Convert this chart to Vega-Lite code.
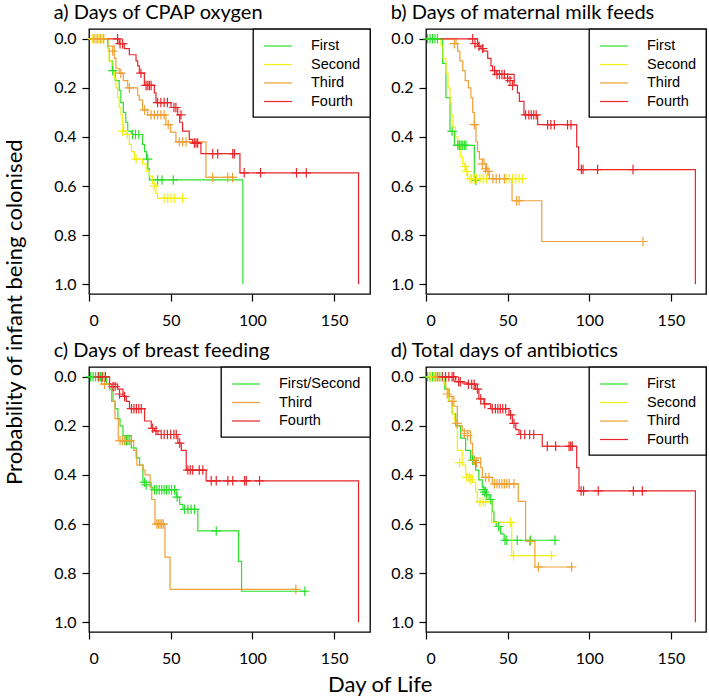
{
"$schema": "https://vega.github.io/schema/vega-lite/v6.json",
"padding": {"left": 4, "top": 2, "right": 0, "bottom": 0},
"background": "white",
"title": {"text": "Probability of infant being  colonised", "orient": "left", "anchor": "middle", "frame": "bounds", "fontSize": 22, "offset": 26, "dx": 37, "font": "Lato", "fontWeight": "normal", "color": "black"},
"resolve": {"scale": {"color": "independent"}, "legend": {"color": "independent"}},
"datasets": {
"km": [
{"p":"a","g":"First","t":0,"y":0},{"p":"a","g":"First","t":11.6,"y":0.04},{"p":"a","g":"First","t":12.5,"y":0.09},{"p":"a","g":"First","t":14.5,"y":0.13},{"p":"a","g":"First","t":16,"y":0.17},{"p":"a","g":"First","t":18.5,"y":0.21},{"p":"a","g":"First","t":19.5,"y":0.26},{"p":"a","g":"First","t":21,"y":0.3},{"p":"a","g":"First","t":22.5,"y":0.34},{"p":"a","g":"First","t":23.7,"y":0.376},{"p":"a","g":"First","t":25.9,"y":0.39},{"p":"a","g":"First","t":32.8,"y":0.43},{"p":"a","g":"First","t":34,"y":0.46},{"p":"a","g":"First","t":35.2,"y":0.49},{"p":"a","g":"First","t":36,"y":0.53},{"p":"a","g":"First","t":36.9,"y":0.575},{"p":"a","g":"First","t":94.2,"y":1.0},
{"p":"a","g":"Second","t":0,"y":0},{"p":"a","g":"Second","t":11.4,"y":0.04},{"p":"a","g":"Second","t":12.3,"y":0.09},{"p":"a","g":"Second","t":14,"y":0.13},{"p":"a","g":"Second","t":15.5,"y":0.16},{"p":"a","g":"Second","t":16.5,"y":0.2},{"p":"a","g":"Second","t":17.5,"y":0.24},{"p":"a","g":"Second","t":18.5,"y":0.28},{"p":"a","g":"Second","t":19.6,"y":0.31},{"p":"a","g":"Second","t":20.4,"y":0.35},{"p":"a","g":"Second","t":21.2,"y":0.376},{"p":"a","g":"Second","t":22.6,"y":0.39},{"p":"a","g":"Second","t":24.7,"y":0.43},{"p":"a","g":"Second","t":26,"y":0.46},{"p":"a","g":"Second","t":27.8,"y":0.49},{"p":"a","g":"Second","t":32.8,"y":0.51},{"p":"a","g":"Second","t":35,"y":0.54},{"p":"a","g":"Second","t":37,"y":0.56},{"p":"a","g":"Second","t":38.9,"y":0.59},{"p":"a","g":"Second","t":41,"y":0.63},{"p":"a","g":"Second","t":42,"y":0.65},{"p":"a","g":"Second","t":57.5,"y":0.65},
{"p":"a","g":"Third","t":0,"y":0},{"p":"a","g":"Third","t":11.4,"y":0.03},{"p":"a","g":"Third","t":15.5,"y":0.08},{"p":"a","g":"Third","t":16.5,"y":0.12},{"p":"a","g":"Third","t":18.5,"y":0.14},{"p":"a","g":"Third","t":21,"y":0.17},{"p":"a","g":"Third","t":23.7,"y":0.2},{"p":"a","g":"Third","t":29.8,"y":0.23},{"p":"a","g":"Third","t":30.8,"y":0.25},{"p":"a","g":"Third","t":32.8,"y":0.29},{"p":"a","g":"Third","t":35.9,"y":0.31},{"p":"a","g":"Third","t":47.1,"y":0.35},{"p":"a","g":"Third","t":50,"y":0.38},{"p":"a","g":"Third","t":53.2,"y":0.42},{"p":"a","g":"Third","t":71.6,"y":0.565},{"p":"a","g":"Third","t":89,"y":0.565},
{"p":"a","g":"Fourth","t":0,"y":0},{"p":"a","g":"Fourth","t":18.5,"y":0.02},{"p":"a","g":"Fourth","t":21.6,"y":0.04},{"p":"a","g":"Fourth","t":24.7,"y":0.065},{"p":"a","g":"Fourth","t":28.8,"y":0.09},{"p":"a","g":"Fourth","t":29.8,"y":0.11},{"p":"a","g":"Fourth","t":30.8,"y":0.14},{"p":"a","g":"Fourth","t":33.9,"y":0.19},{"p":"a","g":"Fourth","t":40,"y":0.22},{"p":"a","g":"Fourth","t":41,"y":0.26},{"p":"a","g":"Fourth","t":50.2,"y":0.28},{"p":"a","g":"Fourth","t":54.3,"y":0.31},{"p":"a","g":"Fourth","t":55.5,"y":0.34},{"p":"a","g":"Fourth","t":57.3,"y":0.376},{"p":"a","g":"Fourth","t":61.4,"y":0.41},{"p":"a","g":"Fourth","t":63.4,"y":0.425},{"p":"a","g":"Fourth","t":68.5,"y":0.468},{"p":"a","g":"Fourth","t":92.4,"y":0.546},{"p":"a","g":"Fourth","t":165,"y":1.0},
{"p":"b","g":"First","t":0,"y":0},{"p":"b","g":"First","t":10.2,"y":0.1},{"p":"b","g":"First","t":12.2,"y":0.24},{"p":"b","g":"First","t":14.7,"y":0.377},{"p":"b","g":"First","t":17.4,"y":0.434},{"p":"b","g":"First","t":29.6,"y":0.577},{"p":"b","g":"First","t":31.5,"y":0.577},
{"p":"b","g":"Second","t":0,"y":0},{"p":"b","g":"Second","t":9.2,"y":0.03},{"p":"b","g":"Second","t":10.5,"y":0.08},{"p":"b","g":"Second","t":12.2,"y":0.14},{"p":"b","g":"Second","t":13.5,"y":0.2},{"p":"b","g":"Second","t":14.7,"y":0.26},{"p":"b","g":"Second","t":15.5,"y":0.31},{"p":"b","g":"Second","t":16.5,"y":0.36},{"p":"b","g":"Second","t":18,"y":0.4},{"p":"b","g":"Second","t":19.5,"y":0.44},{"p":"b","g":"Second","t":21,"y":0.48},{"p":"b","g":"Second","t":22.5,"y":0.51},{"p":"b","g":"Second","t":24,"y":0.54},{"p":"b","g":"Second","t":25.5,"y":0.57},{"p":"b","g":"Second","t":60,"y":0.57},
{"p":"b","g":"Third","t":0,"y":0},{"p":"b","g":"Third","t":18.4,"y":0.02},{"p":"b","g":"Third","t":19.4,"y":0.05},{"p":"b","g":"Third","t":20.8,"y":0.09},{"p":"b","g":"Third","t":22.5,"y":0.13},{"p":"b","g":"Third","t":24,"y":0.17},{"p":"b","g":"Third","t":26,"y":0.2},{"p":"b","g":"Third","t":27.5,"y":0.24},{"p":"b","g":"Third","t":28.6,"y":0.3},{"p":"b","g":"Third","t":29.6,"y":0.35},{"p":"b","g":"Third","t":30.6,"y":0.42},{"p":"b","g":"Third","t":31.6,"y":0.46},{"p":"b","g":"Third","t":32.7,"y":0.49},{"p":"b","g":"Third","t":35.5,"y":0.51},{"p":"b","g":"Third","t":37,"y":0.54},{"p":"b","g":"Third","t":38.8,"y":0.57},{"p":"b","g":"Third","t":52.7,"y":0.66},{"p":"b","g":"Third","t":70.9,"y":0.826},{"p":"b","g":"Third","t":133,"y":0.826},
{"p":"b","g":"Fourth","t":0,"y":0},{"p":"b","g":"Fourth","t":31.6,"y":0.03},{"p":"b","g":"Fourth","t":33.6,"y":0.04},{"p":"b","g":"Fourth","t":35,"y":0.05},{"p":"b","g":"Fourth","t":37.8,"y":0.08},{"p":"b","g":"Fourth","t":39.8,"y":0.11},{"p":"b","g":"Fourth","t":40.8,"y":0.13},{"p":"b","g":"Fourth","t":43,"y":0.145},{"p":"b","g":"Fourth","t":54,"y":0.19},{"p":"b","g":"Fourth","t":56,"y":0.22},{"p":"b","g":"Fourth","t":57.2,"y":0.255},{"p":"b","g":"Fourth","t":60,"y":0.31},{"p":"b","g":"Fourth","t":68.4,"y":0.35},{"p":"b","g":"Fourth","t":92.3,"y":0.44},{"p":"b","g":"Fourth","t":93.5,"y":0.533},{"p":"b","g":"Fourth","t":165,"y":1.0},
{"p":"c","g":"First/Second","t":0,"y":0},{"p":"c","g":"First/Second","t":10.6,"y":0.03},{"p":"c","g":"First/Second","t":12.6,"y":0.05},{"p":"c","g":"First/Second","t":14.7,"y":0.1},{"p":"c","g":"First/Second","t":16,"y":0.13},{"p":"c","g":"First/Second","t":17.7,"y":0.17},{"p":"c","g":"First/Second","t":19,"y":0.2},{"p":"c","g":"First/Second","t":20.8,"y":0.24},{"p":"c","g":"First/Second","t":25.9,"y":0.29},{"p":"c","g":"First/Second","t":28.9,"y":0.33},{"p":"c","g":"First/Second","t":31,"y":0.36},{"p":"c","g":"First/Second","t":33,"y":0.43},{"p":"c","g":"First/Second","t":38,"y":0.45},{"p":"c","g":"First/Second","t":39.1,"y":0.46},{"p":"c","g":"First/Second","t":53.4,"y":0.49},{"p":"c","g":"First/Second","t":55.5,"y":0.52},{"p":"c","g":"First/Second","t":57.5,"y":0.54},{"p":"c","g":"First/Second","t":66.6,"y":0.628},{"p":"c","g":"First/Second","t":91.5,"y":0.752},{"p":"c","g":"First/Second","t":93.4,"y":0.874},{"p":"c","g":"First/Second","t":133,"y":0.874},
{"p":"c","g":"Third","t":0,"y":0},{"p":"c","g":"Third","t":7.7,"y":0.03},{"p":"c","g":"Third","t":13.8,"y":0.1},{"p":"c","g":"Third","t":15.9,"y":0.17},{"p":"c","g":"Third","t":17.9,"y":0.26},{"p":"c","g":"Third","t":27.3,"y":0.3},{"p":"c","g":"Third","t":29.3,"y":0.36},{"p":"c","g":"Third","t":33,"y":0.38},{"p":"c","g":"Third","t":34.3,"y":0.4},{"p":"c","g":"Third","t":37.4,"y":0.45},{"p":"c","g":"Third","t":38.4,"y":0.5},{"p":"c","g":"Third","t":40.4,"y":0.6},{"p":"c","g":"Third","t":46.5,"y":0.735},{"p":"c","g":"Third","t":49.6,"y":0.866},{"p":"c","g":"Third","t":127,"y":0.866},
{"p":"c","g":"Fourth","t":0,"y":0},{"p":"c","g":"Fourth","t":12.6,"y":0.03},{"p":"c","g":"Fourth","t":17.5,"y":0.05},{"p":"c","g":"Fourth","t":20.8,"y":0.08},{"p":"c","g":"Fourth","t":22.8,"y":0.1},{"p":"c","g":"Fourth","t":24.8,"y":0.13},{"p":"c","g":"Fourth","t":34,"y":0.18},{"p":"c","g":"Fourth","t":38.1,"y":0.21},{"p":"c","g":"Fourth","t":40,"y":0.22},{"p":"c","g":"Fourth","t":42.2,"y":0.235},{"p":"c","g":"Fourth","t":54.4,"y":0.27},{"p":"c","g":"Fourth","t":56.5,"y":0.3},{"p":"c","g":"Fourth","t":59.5,"y":0.38},{"p":"c","g":"Fourth","t":71.7,"y":0.424},{"p":"c","g":"Fourth","t":165,"y":1.0},
{"p":"d","g":"First","t":0,"y":0},{"p":"d","g":"First","t":11.5,"y":0.05},{"p":"d","g":"First","t":14.1,"y":0.1},{"p":"d","g":"First","t":16.1,"y":0.15},{"p":"d","g":"First","t":18.2,"y":0.2},{"p":"d","g":"First","t":21.2,"y":0.25},{"p":"d","g":"First","t":24.3,"y":0.3},{"p":"d","g":"First","t":27.3,"y":0.34},{"p":"d","g":"First","t":30.4,"y":0.38},{"p":"d","g":"First","t":32.4,"y":0.42},{"p":"d","g":"First","t":34.5,"y":0.45},{"p":"d","g":"First","t":36.5,"y":0.48},{"p":"d","g":"First","t":38.6,"y":0.5},{"p":"d","g":"First","t":40.6,"y":0.55},{"p":"d","g":"First","t":41.6,"y":0.59},{"p":"d","g":"First","t":43,"y":0.61},{"p":"d","g":"First","t":45.7,"y":0.64},{"p":"d","g":"First","t":47.8,"y":0.666},{"p":"d","g":"First","t":80,"y":0.666},
{"p":"d","g":"Second","t":0,"y":0},{"p":"d","g":"Second","t":11,"y":0.03},{"p":"d","g":"Second","t":12,"y":0.05},{"p":"d","g":"Second","t":14,"y":0.1},{"p":"d","g":"Second","t":16,"y":0.15},{"p":"d","g":"Second","t":17.5,"y":0.18},{"p":"d","g":"Second","t":19.2,"y":0.3},{"p":"d","g":"Second","t":22.2,"y":0.36},{"p":"d","g":"Second","t":24.3,"y":0.4},{"p":"d","g":"Second","t":28.4,"y":0.43},{"p":"d","g":"Second","t":30.4,"y":0.47},{"p":"d","g":"Second","t":31.4,"y":0.51},{"p":"d","g":"Second","t":40.2,"y":0.593},{"p":"d","g":"Second","t":52.5,"y":0.729},{"p":"d","g":"Second","t":78,"y":0.729},
{"p":"d","g":"Third","t":0,"y":0},{"p":"d","g":"Third","t":12.1,"y":0.05},{"p":"d","g":"Third","t":14.1,"y":0.08},{"p":"d","g":"Third","t":17.1,"y":0.12},{"p":"d","g":"Third","t":19.2,"y":0.2},{"p":"d","g":"Third","t":22.2,"y":0.22},{"p":"d","g":"Third","t":27.3,"y":0.27},{"p":"d","g":"Third","t":28.5,"y":0.33},{"p":"d","g":"Third","t":33.5,"y":0.37},{"p":"d","g":"Third","t":34.5,"y":0.41},{"p":"d","g":"Third","t":40.6,"y":0.436},{"p":"d","g":"Third","t":56.5,"y":0.508},{"p":"d","g":"Third","t":61,"y":0.67},{"p":"d","g":"Third","t":66.7,"y":0.775},{"p":"d","g":"Third","t":90,"y":0.775},
{"p":"d","g":"Fourth","t":0,"y":0},{"p":"d","g":"Fourth","t":18.2,"y":0.02},{"p":"d","g":"Fourth","t":22.2,"y":0.025},{"p":"d","g":"Fourth","t":25.3,"y":0.03},{"p":"d","g":"Fourth","t":30.4,"y":0.05},{"p":"d","g":"Fourth","t":32.4,"y":0.09},{"p":"d","g":"Fourth","t":35.5,"y":0.11},{"p":"d","g":"Fourth","t":39.6,"y":0.13},{"p":"d","g":"Fourth","t":50.8,"y":0.155},{"p":"d","g":"Fourth","t":52.9,"y":0.19},{"p":"d","g":"Fourth","t":55,"y":0.215},{"p":"d","g":"Fourth","t":57,"y":0.235},{"p":"d","g":"Fourth","t":71.2,"y":0.283},{"p":"d","g":"Fourth","t":92.3,"y":0.37},{"p":"d","g":"Fourth","t":93.7,"y":0.465},{"p":"d","g":"Fourth","t":165,"y":1.0}
],
"cz": [
{"p":"a","g":"First","t":14.5,"y":0.13},{"p":"a","g":"First","t":26.7,"y":0.39},{"p":"a","g":"First","t":28.5,"y":0.39},{"p":"a","g":"First","t":30.5,"y":0.39},{"p":"a","g":"First","t":35.9,"y":0.49},{"p":"a","g":"First","t":42,"y":0.575},{"p":"a","g":"First","t":44.7,"y":0.575},{"p":"a","g":"First","t":51.6,"y":0.575},
{"p":"a","g":"Second","t":2,"y":0},{"p":"a","g":"Second","t":4,"y":0},{"p":"a","g":"Second","t":6,"y":0},{"p":"a","g":"Second","t":8,"y":0},{"p":"a","g":"Second","t":20.6,"y":0.376},{"p":"a","g":"Second","t":23.5,"y":0.39},{"p":"a","g":"Second","t":28.8,"y":0.49},{"p":"a","g":"Second","t":39.8,"y":0.6},{"p":"a","g":"Second","t":46,"y":0.65},{"p":"a","g":"Second","t":48.2,"y":0.65},{"p":"a","g":"Second","t":50.2,"y":0.65},{"p":"a","g":"Second","t":52.2,"y":0.65},{"p":"a","g":"Second","t":57.3,"y":0.65},
{"p":"a","g":"Third","t":3,"y":0},{"p":"a","g":"Third","t":5,"y":0},{"p":"a","g":"Third","t":7,"y":0},{"p":"a","g":"Third","t":9,"y":0},{"p":"a","g":"Third","t":14.5,"y":0.05},{"p":"a","g":"Third","t":19.5,"y":0.14},{"p":"a","g":"Third","t":24.7,"y":0.2},{"p":"a","g":"Third","t":34,"y":0.29},{"p":"a","g":"Third","t":38,"y":0.31},{"p":"a","g":"Third","t":40,"y":0.31},{"p":"a","g":"Third","t":42,"y":0.31},{"p":"a","g":"Third","t":44,"y":0.31},{"p":"a","g":"Third","t":46,"y":0.31},{"p":"a","g":"Third","t":48.5,"y":0.35},{"p":"a","g":"Third","t":55.3,"y":0.42},{"p":"a","g":"Third","t":57.3,"y":0.42},{"p":"a","g":"Third","t":59.4,"y":0.42},{"p":"a","g":"Third","t":75.7,"y":0.565},{"p":"a","g":"Third","t":84.9,"y":0.565},{"p":"a","g":"Third","t":87.9,"y":0.565},
{"p":"a","g":"Fourth","t":17.5,"y":0},{"p":"a","g":"Fourth","t":19,"y":0.02},{"p":"a","g":"Fourth","t":20.6,"y":0.02},{"p":"a","g":"Fourth","t":31.8,"y":0.14},{"p":"a","g":"Fourth","t":34.9,"y":0.19},{"p":"a","g":"Fourth","t":36,"y":0.19},{"p":"a","g":"Fourth","t":37,"y":0.19},{"p":"a","g":"Fourth","t":38,"y":0.19},{"p":"a","g":"Fourth","t":42,"y":0.26},{"p":"a","g":"Fourth","t":44,"y":0.26},{"p":"a","g":"Fourth","t":46,"y":0.26},{"p":"a","g":"Fourth","t":48,"y":0.26},{"p":"a","g":"Fourth","t":52,"y":0.28},{"p":"a","g":"Fourth","t":53.2,"y":0.28},{"p":"a","g":"Fourth","t":56.3,"y":0.31},{"p":"a","g":"Fourth","t":64.5,"y":0.425},{"p":"a","g":"Fourth","t":65.5,"y":0.425},{"p":"a","g":"Fourth","t":66.5,"y":0.425},{"p":"a","g":"Fourth","t":75.7,"y":0.468},{"p":"a","g":"Fourth","t":78.8,"y":0.468},{"p":"a","g":"Fourth","t":88,"y":0.468},{"p":"a","g":"Fourth","t":89,"y":0.468},{"p":"a","g":"Fourth","t":95,"y":0.546},{"p":"a","g":"Fourth","t":105,"y":0.546},{"p":"a","g":"Fourth","t":127,"y":0.546},{"p":"a","g":"Fourth","t":133,"y":0.546},
{"p":"b","g":"First","t":1,"y":0},{"p":"b","g":"First","t":2.5,"y":0},{"p":"b","g":"First","t":4,"y":0},{"p":"b","g":"First","t":5.5,"y":0},{"p":"b","g":"First","t":7,"y":0},{"p":"b","g":"First","t":16,"y":0.377},{"p":"b","g":"First","t":19.5,"y":0.434},{"p":"b","g":"First","t":20.5,"y":0.434},{"p":"b","g":"First","t":21.5,"y":0.434},{"p":"b","g":"First","t":22.5,"y":0.434},{"p":"b","g":"First","t":23.5,"y":0.434},{"p":"b","g":"First","t":24.5,"y":0.434},{"p":"b","g":"First","t":30.5,"y":0.577},
{"p":"b","g":"Second","t":24,"y":0.52},{"p":"b","g":"Second","t":25,"y":0.54},{"p":"b","g":"Second","t":27,"y":0.57},{"p":"b","g":"Second","t":28,"y":0.57},{"p":"b","g":"Second","t":29.5,"y":0.57},{"p":"b","g":"Second","t":31,"y":0.57},{"p":"b","g":"Second","t":33,"y":0.57},{"p":"b","g":"Second","t":35,"y":0.57},{"p":"b","g":"Second","t":37,"y":0.57},{"p":"b","g":"Second","t":49,"y":0.57},{"p":"b","g":"Second","t":51,"y":0.57},{"p":"b","g":"Second","t":53,"y":0.57},{"p":"b","g":"Second","t":55,"y":0.57},{"p":"b","g":"Second","t":57,"y":0.57},{"p":"b","g":"Second","t":59,"y":0.57},
{"p":"b","g":"Third","t":17.4,"y":0.02},{"p":"b","g":"Third","t":29.6,"y":0.35},{"p":"b","g":"Third","t":34.5,"y":0.51},{"p":"b","g":"Third","t":36.5,"y":0.53},{"p":"b","g":"Third","t":38,"y":0.54},{"p":"b","g":"Third","t":41,"y":0.57},{"p":"b","g":"Third","t":43,"y":0.57},{"p":"b","g":"Third","t":45,"y":0.57},{"p":"b","g":"Third","t":48,"y":0.57},{"p":"b","g":"Third","t":55.5,"y":0.66},{"p":"b","g":"Third","t":57,"y":0.66},{"p":"b","g":"Third","t":132.9,"y":0.826},
{"p":"b","g":"Fourth","t":28.6,"y":0},{"p":"b","g":"Fourth","t":30,"y":0.02},{"p":"b","g":"Fourth","t":32.5,"y":0.03},{"p":"b","g":"Fourth","t":34.7,"y":0.04},{"p":"b","g":"Fourth","t":42,"y":0.13},{"p":"b","g":"Fourth","t":43.5,"y":0.145},{"p":"b","g":"Fourth","t":45,"y":0.145},{"p":"b","g":"Fourth","t":46.5,"y":0.145},{"p":"b","g":"Fourth","t":48,"y":0.145},{"p":"b","g":"Fourth","t":50,"y":0.16},{"p":"b","g":"Fourth","t":51.5,"y":0.17},{"p":"b","g":"Fourth","t":53,"y":0.19},{"p":"b","g":"Fourth","t":61,"y":0.31},{"p":"b","g":"Fourth","t":63,"y":0.31},{"p":"b","g":"Fourth","t":64.5,"y":0.31},{"p":"b","g":"Fourth","t":66,"y":0.31},{"p":"b","g":"Fourth","t":67.5,"y":0.31},{"p":"b","g":"Fourth","t":74.5,"y":0.35},{"p":"b","g":"Fourth","t":76.5,"y":0.35},{"p":"b","g":"Fourth","t":78.6,"y":0.35},{"p":"b","g":"Fourth","t":86.7,"y":0.35},{"p":"b","g":"Fourth","t":88.8,"y":0.35},{"p":"b","g":"Fourth","t":95.2,"y":0.533},{"p":"b","g":"Fourth","t":96.2,"y":0.533},{"p":"b","g":"Fourth","t":105.1,"y":0.533},{"p":"b","g":"Fourth","t":126.8,"y":0.533},
{"p":"c","g":"First/Second","t":1,"y":0},{"p":"c","g":"First/Second","t":2.5,"y":0},{"p":"c","g":"First/Second","t":4,"y":0},{"p":"c","g":"First/Second","t":5.5,"y":0},{"p":"c","g":"First/Second","t":7,"y":0},{"p":"c","g":"First/Second","t":8.5,"y":0},{"p":"c","g":"First/Second","t":10,"y":0},{"p":"c","g":"First/Second","t":22,"y":0.26},{"p":"c","g":"First/Second","t":23,"y":0.26},{"p":"c","g":"First/Second","t":24.5,"y":0.26},{"p":"c","g":"First/Second","t":34,"y":0.43},{"p":"c","g":"First/Second","t":35,"y":0.44},{"p":"c","g":"First/Second","t":40.1,"y":0.46},{"p":"c","g":"First/Second","t":41.5,"y":0.46},{"p":"c","g":"First/Second","t":43,"y":0.46},{"p":"c","g":"First/Second","t":44.5,"y":0.46},{"p":"c","g":"First/Second","t":46,"y":0.46},{"p":"c","g":"First/Second","t":47.5,"y":0.46},{"p":"c","g":"First/Second","t":49,"y":0.46},{"p":"c","g":"First/Second","t":50.5,"y":0.46},{"p":"c","g":"First/Second","t":52.4,"y":0.46},{"p":"c","g":"First/Second","t":54,"y":0.49},{"p":"c","g":"First/Second","t":58.5,"y":0.54},{"p":"c","g":"First/Second","t":60.5,"y":0.54},{"p":"c","g":"First/Second","t":62.5,"y":0.54},{"p":"c","g":"First/Second","t":64.6,"y":0.54},{"p":"c","g":"First/Second","t":77.9,"y":0.628},{"p":"c","g":"First/Second","t":132.1,"y":0.874},
{"p":"c","g":"Third","t":9.5,"y":0.03},{"p":"c","g":"Third","t":19,"y":0.26},{"p":"c","g":"Third","t":20.5,"y":0.26},{"p":"c","g":"Third","t":22,"y":0.26},{"p":"c","g":"Third","t":23.5,"y":0.26},{"p":"c","g":"Third","t":25,"y":0.26},{"p":"c","g":"Third","t":41.5,"y":0.6},{"p":"c","g":"Third","t":42.5,"y":0.6},{"p":"c","g":"Third","t":43.5,"y":0.6},{"p":"c","g":"Third","t":44.5,"y":0.6},{"p":"c","g":"Third","t":45.5,"y":0.6},{"p":"c","g":"Third","t":126.6,"y":0.866},
{"p":"c","g":"Fourth","t":6,"y":0},{"p":"c","g":"Fourth","t":8,"y":0},{"p":"c","g":"Fourth","t":10,"y":0},{"p":"c","g":"Fourth","t":14.7,"y":0.04},{"p":"c","g":"Fourth","t":16,"y":0.04},{"p":"c","g":"Fourth","t":18.7,"y":0.07},{"p":"c","g":"Fourth","t":21.8,"y":0.08},{"p":"c","g":"Fourth","t":26,"y":0.13},{"p":"c","g":"Fourth","t":27.5,"y":0.13},{"p":"c","g":"Fourth","t":29,"y":0.13},{"p":"c","g":"Fourth","t":30.5,"y":0.13},{"p":"c","g":"Fourth","t":32,"y":0.13},{"p":"c","g":"Fourth","t":39,"y":0.21},{"p":"c","g":"Fourth","t":41,"y":0.22},{"p":"c","g":"Fourth","t":44.2,"y":0.235},{"p":"c","g":"Fourth","t":46,"y":0.235},{"p":"c","g":"Fourth","t":48,"y":0.235},{"p":"c","g":"Fourth","t":50,"y":0.235},{"p":"c","g":"Fourth","t":52,"y":0.235},{"p":"c","g":"Fourth","t":53.4,"y":0.235},{"p":"c","g":"Fourth","t":55.5,"y":0.27},{"p":"c","g":"Fourth","t":60.5,"y":0.38},{"p":"c","g":"Fourth","t":62,"y":0.38},{"p":"c","g":"Fourth","t":63.5,"y":0.38},{"p":"c","g":"Fourth","t":67.5,"y":0.38},{"p":"c","g":"Fourth","t":69.7,"y":0.38},{"p":"c","g":"Fourth","t":74.8,"y":0.424},{"p":"c","g":"Fourth","t":77.9,"y":0.424},{"p":"c","g":"Fourth","t":85,"y":0.424},{"p":"c","g":"Fourth","t":88,"y":0.424},{"p":"c","g":"Fourth","t":95.2,"y":0.424},{"p":"c","g":"Fourth","t":96.3,"y":0.424},{"p":"c","g":"Fourth","t":104.4,"y":0.424},
{"p":"d","g":"First","t":1,"y":0},{"p":"d","g":"First","t":2.5,"y":0},{"p":"d","g":"First","t":4,"y":0},{"p":"d","g":"First","t":5.5,"y":0},{"p":"d","g":"First","t":7,"y":0},{"p":"d","g":"First","t":8.5,"y":0},{"p":"d","g":"First","t":28.5,"y":0.34},{"p":"d","g":"First","t":29.5,"y":0.34},{"p":"d","g":"First","t":35,"y":0.46},{"p":"d","g":"First","t":36,"y":0.47},{"p":"d","g":"First","t":37,"y":0.48},{"p":"d","g":"First","t":39.6,"y":0.5},{"p":"d","g":"First","t":44.5,"y":0.61},{"p":"d","g":"First","t":48.4,"y":0.666},{"p":"d","g":"First","t":49.5,"y":0.666},{"p":"d","g":"First","t":55.9,"y":0.666},{"p":"d","g":"First","t":64.1,"y":0.666},{"p":"d","g":"First","t":79,"y":0.666},
{"p":"d","g":"Second","t":3,"y":0},{"p":"d","g":"Second","t":5,"y":0},{"p":"d","g":"Second","t":20.6,"y":0.35},{"p":"d","g":"Second","t":25,"y":0.41},{"p":"d","g":"Second","t":26.5,"y":0.41},{"p":"d","g":"Second","t":27.5,"y":0.42},{"p":"d","g":"Second","t":33,"y":0.51},{"p":"d","g":"Second","t":35,"y":0.51},{"p":"d","g":"Second","t":36.5,"y":0.51},{"p":"d","g":"Second","t":51.7,"y":0.593},{"p":"d","g":"Second","t":53.6,"y":0.729},{"p":"d","g":"Second","t":76.8,"y":0.729},
{"p":"d","g":"Third","t":6,"y":0},{"p":"d","g":"Third","t":8,"y":0},{"p":"d","g":"Third","t":13,"y":0.07},{"p":"d","g":"Third","t":16,"y":0.1},{"p":"d","g":"Third","t":19,"y":0.19},{"p":"d","g":"Third","t":23.5,"y":0.23},{"p":"d","g":"Third","t":25.5,"y":0.24},{"p":"d","g":"Third","t":29.5,"y":0.34},{"p":"d","g":"Third","t":31,"y":0.35},{"p":"d","g":"Third","t":36.5,"y":0.41},{"p":"d","g":"Third","t":38.5,"y":0.41},{"p":"d","g":"Third","t":42,"y":0.436},{"p":"d","g":"Third","t":43.5,"y":0.436},{"p":"d","g":"Third","t":45,"y":0.436},{"p":"d","g":"Third","t":46.5,"y":0.436},{"p":"d","g":"Third","t":48,"y":0.436},{"p":"d","g":"Third","t":49.5,"y":0.436},{"p":"d","g":"Third","t":51,"y":0.436},{"p":"d","g":"Third","t":53.9,"y":0.436},{"p":"d","g":"Third","t":63.5,"y":0.67},{"p":"d","g":"Third","t":68.8,"y":0.775},{"p":"d","g":"Third","t":89.2,"y":0.775},
{"p":"d","g":"Fourth","t":10,"y":0},{"p":"d","g":"Fourth","t":12,"y":0},{"p":"d","g":"Fourth","t":14,"y":0},{"p":"d","g":"Fourth","t":16,"y":0},{"p":"d","g":"Fourth","t":17,"y":0},{"p":"d","g":"Fourth","t":20,"y":0.02},{"p":"d","g":"Fourth","t":21,"y":0.02},{"p":"d","g":"Fourth","t":26,"y":0.03},{"p":"d","g":"Fourth","t":28,"y":0.03},{"p":"d","g":"Fourth","t":29.5,"y":0.03},{"p":"d","g":"Fourth","t":31.5,"y":0.05},{"p":"d","g":"Fourth","t":33.5,"y":0.09},{"p":"d","g":"Fourth","t":36,"y":0.11},{"p":"d","g":"Fourth","t":40.6,"y":0.13},{"p":"d","g":"Fourth","t":42.5,"y":0.13},{"p":"d","g":"Fourth","t":44,"y":0.13},{"p":"d","g":"Fourth","t":45.5,"y":0.13},{"p":"d","g":"Fourth","t":47,"y":0.13},{"p":"d","g":"Fourth","t":48.8,"y":0.13},{"p":"d","g":"Fourth","t":51.8,"y":0.155},{"p":"d","g":"Fourth","t":53.9,"y":0.19},{"p":"d","g":"Fourth","t":58,"y":0.235},{"p":"d","g":"Fourth","t":60.5,"y":0.235},{"p":"d","g":"Fourth","t":63.5,"y":0.235},{"p":"d","g":"Fourth","t":66,"y":0.235},{"p":"d","g":"Fourth","t":74.3,"y":0.283},{"p":"d","g":"Fourth","t":79.4,"y":0.283},{"p":"d","g":"Fourth","t":87.6,"y":0.283},{"p":"d","g":"Fourth","t":88.6,"y":0.283},{"p":"d","g":"Fourth","t":89.6,"y":0.283},{"p":"d","g":"Fourth","t":95,"y":0.465},{"p":"d","g":"Fourth","t":96.5,"y":0.465},{"p":"d","g":"Fourth","t":105.5,"y":0.465},{"p":"d","g":"Fourth","t":127,"y":0.465},{"p":"d","g":"Fourth","t":132.5,"y":0.465}
]
},
"vconcat": [
{
"title": {"text": "Day of Life", "orient": "bottom", "anchor": "middle", "frame": "bounds", "fontSize": 22, "offset": 8, "font": "Lato", "fontWeight": "normal", "color": "black"},
"spacing": 11,
"resolve": {"scale": {"color": "independent"}, "legend": {"color": "independent"}},
"vconcat": [
{"spacing": 18, "resolve": {"scale": {"color": "independent"}, "legend": {"color": "independent"}},
"hconcat": [
{"width": 281, "height": 265, "title": {"text": "a) Days of CPAP oxygen"},
"layer": [
{"data": {"name": "km"}, "transform": [{"filter": "datum.p == 'a'"}], "mark": {"type": "line", "interpolate": "step-after", "strokeWidth": 1.2},
"encoding": {"x": {"field": "t", "type": "quantitative", "scale": {"domain": [0, 172], "nice": false, "zero": false}, "axis": {"values": [0, 50, 100, 150], "labelPadding": 11}},
"y": {"field": "y", "type": "quantitative", "scale": {"domain": [-0.04, 1.04], "nice": false, "zero": false, "reverse": true}, "axis": {"values": [0, 0.2, 0.4, 0.6, 0.8, 1], "format": ".1f", "labelPadding": 6}},
"color": {"field": "g", "type": "nominal", "scale": {"domain": ["First", "Second", "Third", "Fourth"], "range": ["#2BE02B", "#F2EE10", "#F0A035", "#E8262B"]}}}},
{"data": {"name": "cz"}, "transform": [{"filter": "datum.p == 'a'"}], "mark": {"type": "point", "shape": "M-1,0L1,0M0,-1L0,1", "filled": false, "size": 90, "strokeWidth": 1.2, "opacity": 1},
"encoding": {"x": {"field": "t", "type": "quantitative"}, "y": {"field": "y", "type": "quantitative"}, "stroke": {"field": "g", "type": "nominal", "scale": {"domain": ["First", "Second", "Third", "Fourth", "First/Second"], "range": ["#2BE02B", "#F2EE10", "#F0A035", "#E8262B", "#2BE02B"]}, "legend": null}}}
]},
{"width": 280, "height": 265, "title": {"text": "b) Days of maternal milk feeds"},
"layer": [
{"data": {"name": "km"}, "transform": [{"filter": "datum.p == 'b'"}], "mark": {"type": "line", "interpolate": "step-after", "strokeWidth": 1.2},
"encoding": {"x": {"field": "t", "type": "quantitative", "scale": {"domain": [0, 171.5], "nice": false, "zero": false}, "axis": {"values": [0, 50, 100, 150], "labelPadding": 11}},
"y": {"field": "y", "type": "quantitative", "scale": {"domain": [-0.04, 1.04], "nice": false, "zero": false, "reverse": true}, "axis": {"values": [0, 0.2, 0.4, 0.6, 0.8, 1], "format": ".1f", "labelPadding": 6}},
"color": {"field": "g", "type": "nominal", "scale": {"domain": ["First", "Second", "Third", "Fourth"], "range": ["#2BE02B", "#F2EE10", "#F0A035", "#E8262B"]}}}},
{"data": {"name": "cz"}, "transform": [{"filter": "datum.p == 'b'"}], "mark": {"type": "point", "shape": "M-1,0L1,0M0,-1L0,1", "filled": false, "size": 90, "strokeWidth": 1.2, "opacity": 1},
"encoding": {"x": {"field": "t", "type": "quantitative"}, "y": {"field": "y", "type": "quantitative"}, "stroke": {"field": "g", "type": "nominal", "scale": {"domain": ["First", "Second", "Third", "Fourth", "First/Second"], "range": ["#2BE02B", "#F2EE10", "#F0A035", "#E8262B", "#2BE02B"]}, "legend": null}}}
]}
]},
{"spacing": 18, "resolve": {"scale": {"color": "independent"}, "legend": {"color": "independent"}},
"hconcat": [
{"width": 281, "height": 265, "title": {"text": "c) Days of breast feeding"},
"layer": [
{"data": {"name": "km"}, "transform": [{"filter": "datum.p == 'c'"}], "mark": {"type": "line", "interpolate": "step-after", "strokeWidth": 1.2},
"encoding": {"x": {"field": "t", "type": "quantitative", "scale": {"domain": [0, 172], "nice": false, "zero": false}, "axis": {"values": [0, 50, 100, 150], "labelPadding": 11}},
"y": {"field": "y", "type": "quantitative", "scale": {"domain": [-0.04, 1.04], "nice": false, "zero": false, "reverse": true}, "axis": {"values": [0, 0.2, 0.4, 0.6, 0.8, 1], "format": ".1f", "labelPadding": 6}},
"color": {"field": "g", "type": "nominal", "scale": {"domain": ["First/Second", "Third", "Fourth"], "range": ["#2BE02B", "#F0A035", "#E8262B"]}}}},
{"data": {"name": "cz"}, "transform": [{"filter": "datum.p == 'c'"}], "mark": {"type": "point", "shape": "M-1,0L1,0M0,-1L0,1", "filled": false, "size": 90, "strokeWidth": 1.2, "opacity": 1},
"encoding": {"x": {"field": "t", "type": "quantitative"}, "y": {"field": "y", "type": "quantitative"}, "stroke": {"field": "g", "type": "nominal", "scale": {"domain": ["First", "Second", "Third", "Fourth", "First/Second"], "range": ["#2BE02B", "#F2EE10", "#F0A035", "#E8262B", "#2BE02B"]}, "legend": null}}}
]},
{"width": 280, "height": 265, "title": {"text": "d) Total days of antibiotics"},
"layer": [
{"data": {"name": "km"}, "transform": [{"filter": "datum.p == 'd'"}], "mark": {"type": "line", "interpolate": "step-after", "strokeWidth": 1.2},
"encoding": {"x": {"field": "t", "type": "quantitative", "scale": {"domain": [0, 171.5], "nice": false, "zero": false}, "axis": {"values": [0, 50, 100, 150], "labelPadding": 11}},
"y": {"field": "y", "type": "quantitative", "scale": {"domain": [-0.04, 1.04], "nice": false, "zero": false, "reverse": true}, "axis": {"values": [0, 0.2, 0.4, 0.6, 0.8, 1], "format": ".1f", "labelPadding": 6}},
"color": {"field": "g", "type": "nominal", "scale": {"domain": ["First", "Second", "Third", "Fourth"], "range": ["#2BE02B", "#F2EE10", "#F0A035", "#E8262B"]}}}},
{"data": {"name": "cz"}, "transform": [{"filter": "datum.p == 'd'"}], "mark": {"type": "point", "shape": "M-1,0L1,0M0,-1L0,1", "filled": false, "size": 90, "strokeWidth": 1.2, "opacity": 1},
"encoding": {"x": {"field": "t", "type": "quantitative"}, "y": {"field": "y", "type": "quantitative"}, "stroke": {"field": "g", "type": "nominal", "scale": {"domain": ["First", "Second", "Third", "Fourth", "First/Second"], "range": ["#2BE02B", "#F2EE10", "#F0A035", "#E8262B", "#2BE02B"]}, "legend": null}}}
]}
]}
]
}
],
"config": {
"view": {"stroke": "black", "strokeWidth": 1.3},
"axis": {"domain": false, "grid": false, "ticks": true, "tickColor": "black", "tickSize": 7, "tickWidth": 1.2, "labelColor": "black", "labelFont": "Lato", "labelFontSize": 16, "title": null},
"title": {"font": "Lato", "fontSize": 20, "fontWeight": "normal", "color": "black", "anchor": "start", "frame": "bounds", "offset": 5},
"legend": {"orient": "top-right", "offset": 0, "strokeColor": "black", "strokeWidth": 1.3, "fillColor": "white", "padding": 9, "symbolType": "M-2,0L2,0", "symbolSize": 196, "symbolOffset": 8, "symbolStrokeWidth": 1.2, "labelFont": "Liberation Sans", "labelFontSize": 14.5, "labelColor": "black", "labelOffset": 25, "rowPadding": 3.5, "title": null}
}
}
